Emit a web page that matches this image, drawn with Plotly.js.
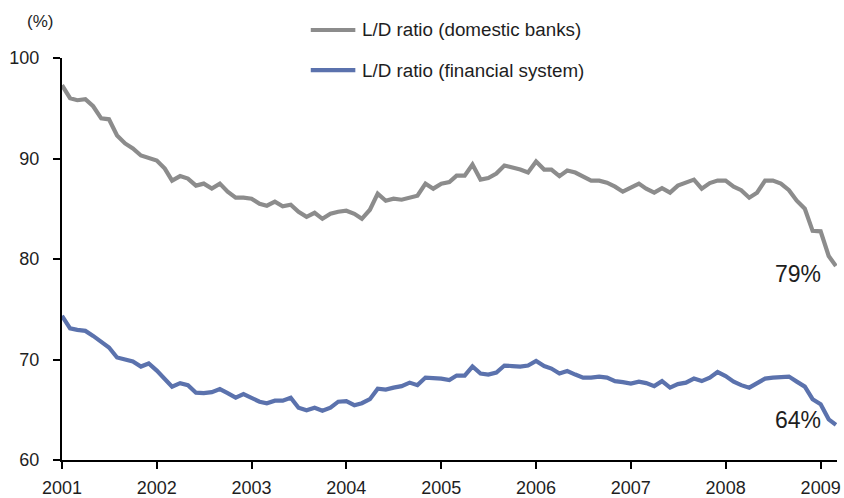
<!DOCTYPE html>
<html>
<head>
<meta charset="utf-8">
<script src="https://cdn.plot.ly/plotly-3.0.1.min.js"></script>
<style>
  html, body { margin: 0; padding: 0; background: #fff; }
  #chart { width: 844px; height: 498px; }
</style>
</head>
<body>
<div id="chart"></div>
<script>
// Loan-to-deposit ratios, monthly, January 2001 to March 2009 (%)
const seriesNames = ["L/D ratio (domestic banks)", "L/D ratio (financial system)"];

const domesticBanks = [
  97.3, 96.0, 95.8, 95.9, 95.2, 94.0, 93.9, 92.3, 91.5, 91.0, 90.3, 90.05,
  89.8, 89.0, 87.8, 88.25, 88.0, 87.3, 87.5, 87.0, 87.5, 86.7, 86.1, 86.1,
  86.0, 85.5, 85.3, 85.7, 85.25, 85.4, 84.7, 84.2, 84.6, 84.0, 84.5, 84.7,
  84.8, 84.5, 84.0, 84.9, 86.5, 85.8, 86.0, 85.9, 86.05, 86.3, 87.5, 87.0,
  87.5, 87.65, 88.3, 88.3, 89.4, 87.9, 88.05, 88.5, 89.3, 89.15, 88.9, 88.6,
  89.7, 88.9, 88.9, 88.25, 88.8, 88.6, 88.15, 87.8, 87.8, 87.6, 87.2, 86.7,
  87.1, 87.5, 87.0, 86.6, 87.05, 86.6, 87.3, 87.6, 87.9, 87.0, 87.55, 87.8,
  87.8, 87.2, 86.85, 86.1, 86.6, 87.8, 87.8, 87.5, 86.85, 85.8, 85.0, 82.8,
  82.75, 80.3, 79.3
];

const financialSystem = [
  74.35, 73.1, 72.95, 72.85, 72.35, 71.7, 71.2, 70.2, 70.05, 69.8, 69.3, 69.6,
  68.9, 68.05, 67.3, 67.65, 67.45, 66.7, 66.65, 66.75, 67.05, 66.65, 66.2, 66.55,
  66.2, 65.8, 65.65, 65.9, 65.9, 66.2, 65.2, 64.95, 65.2, 64.9, 65.2, 65.8,
  65.85, 65.45, 65.65, 66.05, 67.1, 67.0, 67.2, 67.35, 67.7, 67.45, 68.2, 68.2,
  68.1, 67.95, 68.4, 68.4, 69.3, 68.6, 68.5, 68.7, 69.4, 69.35, 69.3, 69.4,
  69.85, 69.35, 69.1, 68.6, 68.85, 68.5, 68.2, 68.2, 68.3, 68.2, 67.85, 67.75,
  67.6, 67.8, 67.65, 67.35, 67.85, 67.2, 67.55, 67.7, 68.1, 67.85, 68.2, 68.75,
  68.35, 67.8, 67.45, 67.2, 67.7, 68.1, 68.2, 68.3, 68.3, 67.8, 67.3, 66.05,
  65.55, 64.05, 63.5
];

const yearTicks = ["2001", "2002", "2003", "2004", "2005", "2006", "2007", "2008", "2009"];
const yTicks = [60, 70, 80, 90, 100];

// Month-start dates for each observation
const months = [];
for (let i = 0; i < domesticBanks.length; i++) {
  const y = 2001 + Math.floor(i / 12);
  const m = (i % 12) + 1;
  months.push(y + "-" + String(m).padStart(2, "0") + "-01");
}

const colors = ["#8c8c8c", "#5b72ad"];
const fontFamily = "'Liberation Sans', Arial, Helvetica, sans-serif";
const textColor = "#1e1e1e";

const traces = [domesticBanks, financialSystem].map((vals, k) => ({
  type: "scatter",
  mode: "lines",
  x: months,
  y: vals,
  name: seriesNames[k],
  line: { color: colors[k], width: 4.2 },
  hoverinfo: "x+y",
  showlegend: false
}));

// Legend drawn as line samples plus labels above the plot
const legendRows = [1.0697, 0.970];
const shapes = [];
const annotations = [];
seriesNames.forEach((name, k) => {
  shapes.push({
    type: "line", xref: "paper", yref: "paper",
    x0: 0.3210, x1: 0.3785, y0: legendRows[k], y1: legendRows[k],
    line: { color: colors[k], width: 4.2 }
  });
  annotations.push({
    xref: "paper", yref: "paper",
    x: 0.3847, y: legendRows[k],
    xanchor: "left", yanchor: "middle",
    text: name, showarrow: false,
    font: { family: fontFamily, size: 18.8, color: textColor }
  });
});

// Unit label
annotations.push({
  xref: "paper", yref: "paper", x: -0.0284, y: 1.0896,
  xanchor: "center", yanchor: "middle",
  text: "(%)", showarrow: false,
  font: { family: fontFamily, size: 17, color: textColor }
});

// End-of-period values
const endLabels = [
  { vals: domesticBanks, y: 0.4627 },
  { vals: financialSystem, y: 0.0995 }
];
endLabels.forEach(e => {
  const last = e.vals[e.vals.length - 1];
  annotations.push({
    xref: "paper", yref: "paper", x: 0.982, y: e.y,
    xanchor: "right", yanchor: "middle",
    text: Math.round(last) + "%", showarrow: false,
    font: { family: fontFamily, size: 23, color: textColor }
  });
});

const layout = {
  width: 844,
  height: 498,
  margin: { l: 62, r: 7, t: 58, b: 38 },
  paper_bgcolor: "#ffffff",
  plot_bgcolor: "#ffffff",
  font: { family: fontFamily, size: 18, color: textColor },
  xaxis: {
    type: "date",
    range: ["2001-01-01", "2009-03-05"],
    tickvals: yearTicks.map(y => y + "-01-01"),
    ticktext: yearTicks,
    ticks: "outside",
    ticklen: 7,
    tickwidth: 2,
    tickcolor: "#000",
    showline: true,
    linecolor: "#000",
    linewidth: 2,
    showgrid: false,
    zeroline: false,
    ticklabelstandoff: 3,
    tickfont: { family: fontFamily, size: 18, color: textColor }
  },
  yaxis: {
    range: [60, 100],
    tickvals: yTicks,
    ticks: "outside",
    ticklen: 7,
    tickwidth: 2,
    tickcolor: "#000",
    showline: true,
    linecolor: "#000",
    linewidth: 2,
    showgrid: false,
    zeroline: false,
    ticklabelstandoff: 10,
    tickfont: { family: fontFamily, size: 18, color: textColor }
  },
  shapes: shapes,
  annotations: annotations,
  showlegend: false
};

Plotly.newPlot("chart", traces, layout, { displayModeBar: false, staticPlot: true });
</script>
</body>
</html>
